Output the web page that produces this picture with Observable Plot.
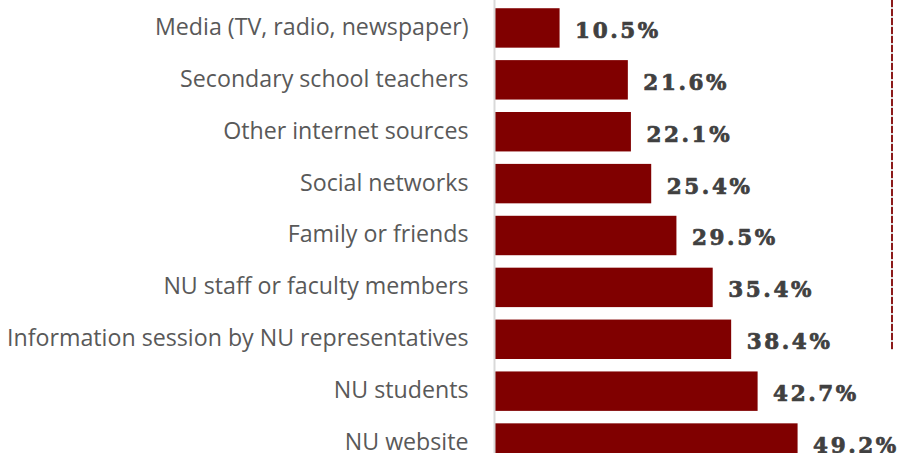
<!DOCTYPE html>
<html>
<head>
<meta charset="utf-8">
<script src="https://cdn.jsdelivr.net/npm/d3@7"></script>
<script src="https://cdn.jsdelivr.net/npm/@observablehq/plot@0.6"></script>
<style>
  html, body { margin: 0; padding: 0; background: #fff; overflow: hidden; }
  #wrap { position: relative; width: 902px; height: 453px; overflow: hidden; }
  #frame { position: absolute; left: 891px; top: 0; width: 2px; height: 350px;
    background: repeating-linear-gradient(to bottom, #8b1a1a 0 7px, #d8d8d8 7px 9px); }
</style>
</head>
<body>
<div id="wrap"><div id="frame"></div></div>
<script>
const categories = [
  "Media (TV, radio, newspaper)",
  "Secondary school teachers",
  "Other internet sources",
  "Social networks",
  "Family or friends",
  "NU staff or faculty members",
  "Information session by NU representatives",
  "NU students",
  "NU website"
];
const values = [10.5, 21.6, 22.1, 25.4, 29.5, 35.4, 38.4, 42.7, 49.2];

const data = categories.map((c, i) => ({category: c, value: values[i]}));

const chart = Plot.plot({
  width: 902,
  height: 453,
  marginTop: 0, marginBottom: 0, marginLeft: 0, marginRight: 0,
  x: {domain: [0, 50], range: [495, 802.5], axis: null},
  y: {domain: categories, range: [2, 469], paddingInner: 0.24, paddingOuter: 0.12, round: false, axis: null},
  style: {background: "#fff"},
  marks: [
    Plot.barX(data, {x: "value", y: "category", fill: "#800000"}),
    Plot.ruleX([0], {stroke: "#d9d9d9", strokeWidth: 2, dx: -1}),
    Plot.text(data, {
      x: 0, y: "category", text: "category", textAnchor: "end", dx: -27, dy: -1,
      fontFamily: "Open Sans", fontSize: 23.2, fill: "#595959"
    }),
    Plot.text(data, {
      x: "value", y: "category", text: d => d.value.toFixed(1) + "%",
      textAnchor: "start", dx: 15, dy: 2.5,
      fontFamily: "DejaVu Serif", fontWeight: "bold", fontSize: 21.5, fill: "#404040",
      stroke: "#404040", strokeWidth: 0.7
    })
  ]
});
// widen the value labels' letter spacing like the reference
d3.select(chart).selectAll('g[aria-label="text"]')
  .filter((d, i) => i === 1)
  .attr("letter-spacing", "2.6px");
document.getElementById("wrap").appendChild(chart);
</script>
</body>
</html>
